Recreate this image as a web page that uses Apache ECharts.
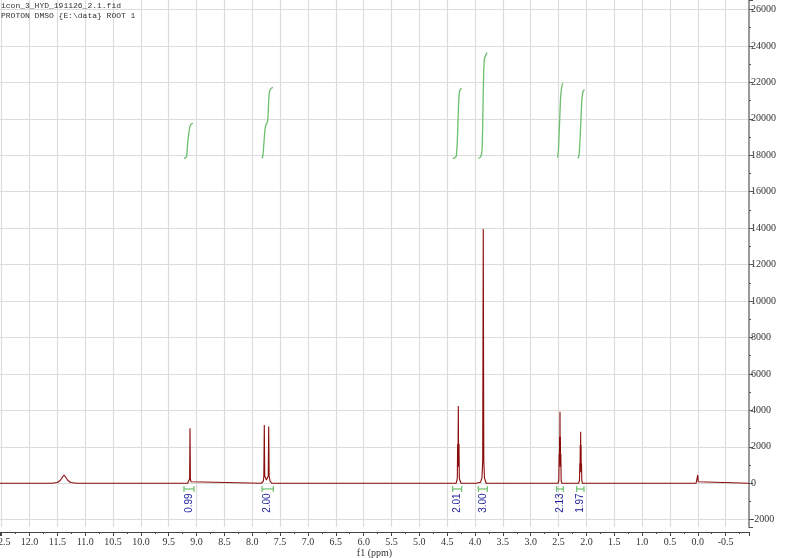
<!DOCTYPE html>
<html><head><meta charset="utf-8">
<script src="https://cdn.jsdelivr.net/npm/echarts@6/dist/echarts.min.js"></script>
<style>html,body{margin:0;padding:0;background:#fff}#c{width:800px;height:558px}</style>
</head><body><div id="c"></div>
<script>
// ---- text ----
const titleLines = ['icon_3_HYD_191126_2.1.fid', 'PROTON DMSO {E:\\data} ROOT 1'];
const xAxisName = 'f1 (ppm)';

// ---- axis ranges (ppm, intensity) ----
const ppmRange = [-0.92, 12.53];
const intensityRange = [-2400, 26520];
const ppmStep = 0.5;
const intensityStep = 2000;

// ---- spectrum ----
const specPpm = [
  12.53, 11.60, 11.50, 11.45, 11.41, 11.38, 11.35, 11.31, 11.26, 11.15,
  9.16, 9.135, 9.125, 9.118, 9.111, 9.10, 9.08,
  7.84, 7.80, 7.792, 7.784, 7.776, 7.745, 7.713, 7.705, 7.697, 7.68, 7.65,
  4.34, 4.325, 4.318, 4.312, 4.306, 4.300, 4.294, 4.288, 4.282, 4.27, 4.25,
  3.98, 3.96, 3.95, 3.90, 3.875, 3.862, 3.852, 3.842, 3.83, 3.80,
  2.51, 2.495, 2.489, 2.485, 2.481, 2.477, 2.474, 2.471, 2.467, 2.463, 2.459, 2.453, 2.44,
  2.14, 2.124, 2.118, 2.114, 2.110, 2.106, 2.103, 2.100, 2.096, 2.092, 2.088, 2.082, 2.07,
  0.03, 0.008, 0.0, -0.008, -0.03, -0.92
];
const specInt = [
  0, 0, 40, 150, 330, 455, 330, 150, 40, 0,
  0, 80, 250, 3020, 250, 80, 0,
  0, 120, 400, 3200, 400, 180, 400, 3110, 400, 120, 0,
  0, 150, 300, 2150, 900, 4240, 900, 2150, 300, 150, 0,
  0, 60, 0, 60, 300, 1200, 13950, 1200, 300, 0,
  0, 150, 1600, 900, 2550, 1500, 3930, 1500, 2550, 900, 1600, 150, 0,
  0, 150, 1100, 600, 2100, 1300, 2830, 1300, 2100, 600, 1100, 150, 0,
  0, 80, 455, 80, 0, 0
];

// ---- integral curves ----
const integral1 = [[9.226,17830],[9.19,17880],[9.175,18050],[9.155,18800],[9.125,19500],[9.105,19680],[9.066,19760]];
const integral2 = [[7.825,17830],[7.81,17950],[7.79,18700],[7.77,19450],[7.75,19700],[7.725,19850],[7.71,20600],[7.695,21400],[7.67,21650],[7.63,21730]];
const integral3 = [[4.40,17830],[4.36,17860],[4.335,17980],[4.315,19000],[4.295,20800],[4.28,21480],[4.26,21630],[4.24,21670]];
const integral4 = [[3.94,17830],[3.90,17900],[3.875,18250],[3.86,20000],[3.845,22500],[3.83,23300],[3.80,23550],[3.78,23630]];
const integral5 = [[2.515,17870],[2.50,18400],[2.48,19900],[2.46,21300],[2.435,21880],[2.42,21950]];
const integral6 = [[2.155,17830],[2.14,17900],[2.125,18250],[2.10,19800],[2.08,21100],[2.06,21500],[2.035,21620]];
const integrals = [integral1, integral2, integral3, integral4, integral5, integral6];

// ---- integration regions and values ----
const intFrom = [9.226, 7.825, 4.401, 3.941, 2.534, 2.174];
const intTo   = [9.046, 7.622, 4.240, 3.780, 2.415, 2.043];
const intLabels = ['0.99', '2.00', '2.01', '3.00', '2.13', '1.97'];

// ---- styles ----
const specColor = '#8b0a0a';
const intColor = '#6cbf6c';
const labelColor = '#1d1d9c';
const gridColor = '#dcdcdc';
const bracketY = -313;
const labelY = -1090;

const chart = echarts.init(document.getElementById('c'), null, {renderer: 'canvas'});

const series = [{
  type: 'line',
  data: specPpm.map((p, i) => [p, specInt[i]]),
  showSymbol: false,
  symbol: 'none',
  sampling: null,
  lineStyle: {color: specColor, width: 1.1},
  z: 3,
  silent: true
}];
integrals.forEach(arr => series.push({
  type: 'line',
  data: arr,
  showSymbol: false,
  symbol: 'none',
  smooth: 0.3,
  lineStyle: {color: intColor, width: 1.3},
  z: 2,
  silent: true
}));
series.push({
  type: 'custom',
  data: intFrom.map((f, i) => [f, intTo[i], i]),
  encode: {x: [0, 1]},
  z: 4,
  silent: true,
  renderItem: function (params, api) {
    const a = api.coord([api.value(0), bracketY]);
    const b = api.coord([api.value(1), bracketY]);
    const c = api.coord([(api.value(0) + api.value(1)) / 2, labelY]);
    const st = {stroke: intColor, lineWidth: 1.2};
    return {
      type: 'group',
      children: [
        {type: 'line', shape: {x1: a[0], y1: a[1], x2: b[0], y2: b[1]}, style: st},
        {type: 'line', shape: {x1: a[0], y1: a[1] - 3, x2: a[0], y2: a[1] + 3}, style: st},
        {type: 'line', shape: {x1: b[0], y1: b[1] - 3, x2: b[0], y2: b[1] + 3}, style: st},
        {type: 'text', x: c[0], y: c[1], rotation: Math.PI / 2,
         style: {text: intLabels[api.value(2)], x: 0, y: 0, align: 'center', verticalAlign: 'middle',
                 fill: labelColor, font: '10px "Liberation Sans"'}}
      ]
    };
  }
});

chart.setOption({
  animation: false,
  backgroundColor: '#ffffff',
  grid: {left: 0, right: 51, top: 0, bottom: 31, containLabel: false, outerBoundsMode: 'none'},
  graphic: [{
    type: 'text', left: 1, top: 1, z: 10,
    style: {text: titleLines.join('\n'), font: '8px "Liberation Mono"', fill: '#333', lineHeight: 10}
  }],
  xAxis: {
    type: 'value', inverse: true,
    min: ppmRange[0], max: ppmRange[1],
    splitNumber: 27, minInterval: ppmStep, maxInterval: ppmStep,
    position: 'bottom', offset: 5,
    name: xAxisName, nameLocation: 'middle', nameGap: 16, nameMoveOverlap: false,
    nameTextStyle: {fontFamily: 'Liberation Serif', fontSize: 10, color: '#333', verticalAlign: 'top', lineHeight: 10},
    axisLine: {show: true, onZero: false, lineStyle: {color: '#444', width: 1}},
    axisTick: {show: true, length: 4, lineStyle: {color: '#444'}},
    minorTick: {show: true, splitNumber: 2, length: 2, lineStyle: {color: '#444'}},
    axisLabel: {showMinLabel: false, showMaxLabel: false, margin: 5, hideOverlap: false,
      formatter: v => v.toFixed(1), fontFamily: 'Liberation Serif', fontSize: 10, color: '#333'},
    splitLine: {show: true, showMinLine: false, showMaxLine: false, lineStyle: {color: gridColor, width: 1.2}}
  },
  yAxis: {
    type: 'value', position: 'right',
    min: intensityRange[0], max: intensityRange[1],
    splitNumber: 14, minInterval: intensityStep, maxInterval: intensityStep,
    axisLine: {show: true, onZero: false, lineStyle: {color: '#999', width: 2}},
    axisTick: {show: true, length: 4, lineStyle: {color: '#555'}},
    minorTick: {show: true, splitNumber: 2, length: 2, lineStyle: {color: '#555'}},
    axisLabel: {showMinLabel: false, showMaxLabel: false, margin: 2,
      formatter: v => String(Math.round(v)),
      fontFamily: 'Liberation Serif', fontSize: 10, color: '#333'},
    splitLine: {show: true, showMinLine: false, showMaxLine: false, lineStyle: {color: gridColor, width: 1.2}}
  },
  series: series
});
</script>
</body></html>
